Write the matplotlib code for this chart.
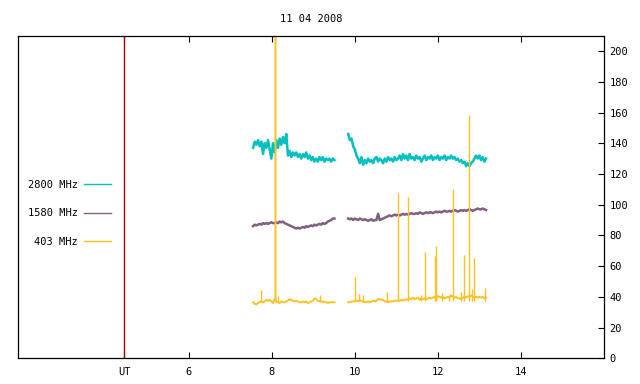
import numpy as np
import matplotlib
matplotlib.use("Agg")
import matplotlib.pyplot as plt

# ---------------- data ----------------
title = "11 04 2008"
labels = ["2800 MHz", "1580 MHz", "403 MHz"]
colors = ["#00c0c0", "#806080", "#ffc020"]
ut_pos = 4.45
xtick_vals = [6, 8, 10, 12, 14]
ytick_vals = [0, 20, 40, 60, 80, 100, 120, 140, 160, 180, 200]

seg1_start, seg2_start, step = 7.55, 9.84, 0.04

f2800_a = [137, 141, 139, 142, 138, 141, 133, 140, 137, 142,
           136, 130, 140, 134, 142, 137, 143, 139, 144, 140,
           146, 132, 135, 131, 134, 132, 134, 131, 133, 130,
           133, 131, 134, 130, 132, 129, 131, 128, 130, 128,
           131, 129, 131, 128, 130, 129, 130, 128, 130, 129]
f2800_b = [146, 142, 143, 138, 136, 132, 130, 127, 131, 126,
           129, 127, 130, 128, 129, 127, 130, 131, 128, 130,
           129, 127, 130, 128, 131, 129, 130, 128, 131, 129,
           130, 132, 129, 133, 130, 132, 129, 133, 130, 131,
           129, 132, 130, 131, 128, 130, 132, 129, 131, 130,
           132, 129, 131, 130, 132, 129, 131, 130, 132, 129,
           131, 130, 132, 130, 131, 129, 130, 128, 129, 127,
           128, 125, 127, 125, 127, 128, 130, 132, 130, 132,
           129, 131, 128, 130]

f1580_a = [86, 87, 86.5, 87, 87.5, 87, 88, 87.5, 88, 87.5,
           88, 88.5, 88, 88, 88.5, 88, 89, 88.5, 89, 88,
           87.5, 87, 86.5, 86, 85.5, 85, 84.5, 85, 84.5, 85,
           85.5, 85, 86, 85.5, 86, 86.5, 86, 87, 86.5, 87,
           87.5, 87, 88, 87.5, 88, 89, 89.5, 90, 91, 91]
f1580_b = [91, 90.5, 91, 90, 91, 90.5, 90, 91, 90.5, 90,
           90.5, 90, 89.5, 90, 90.5, 89.5, 90, 90, 94, 90,
           90.5, 91, 91.5, 92, 92.5, 93, 92.5, 93, 93.5, 93,
           93.5, 93, 93.5, 94, 93.5, 94, 93.5, 94, 94.5, 94,
           94, 94.5, 94, 95, 94.5, 94, 94.5, 95, 94.5, 95,
           95, 94.5, 95, 95.5, 95, 95.5, 95, 95.5, 96, 95.5,
           95.5, 96, 95.5, 96, 96.5, 96, 95.5, 96, 96.5, 96,
           96.5, 96, 96.5, 97, 96.5, 96, 96.5, 97, 97.5, 97,
           97, 97.5, 97, 96.5]

f403_a = [36.5, 35.5, 35, 36, 36.5, 37, 36.5, 37, 38, 37.5,
          38, 37, 36, 38.5, 37, 36.5, 36, 37, 36.5, 36.5,
          37, 37.5, 38.5, 38, 37.5, 37, 37.5, 37, 36.5, 36.5,
          37, 36.5, 37, 36, 36.5, 37, 37.5, 39, 38.5, 37.5,
          37, 37, 36.5, 37, 36.5, 36, 36.5, 36.5, 36.5, 36.5]
f403_b = [36.5, 36.5, 37, 37, 37, 37.5, 37, 38, 37, 37,
          36.5, 36.5, 37, 36.5, 37, 37.5, 37, 37.5, 38.5, 38.5,
          38, 38, 37, 37, 36.5, 37, 37, 37, 37.5, 37.5,
          37.5, 37.5, 38, 37.5, 38, 38.5, 38, 39, 38.5, 39.5,
          38.5, 39, 39.5, 38, 39, 38.5, 39, 38.5, 39, 39.5,
          39, 39.5, 40, 39, 40.5, 40, 39.5, 40, 39, 39.5,
          40, 39.5, 41, 40, 39.5, 40, 39, 39, 38.5, 39.5,
          40, 39.5, 40.5, 40, 41, 40, 39.5, 40, 39.5, 40,
          39.5, 40, 39, 39.5]

# 403 MHz short bursts (time, peak flux)
spike_t = [7.74, 8.07, 8.08, 8.09, 8.15, 9.16, 10.00, 10.10, 10.20, 10.78,
           11.04, 11.28, 11.60, 11.69, 11.94, 11.96, 12.10, 12.27, 12.36,
           12.55, 12.63, 12.75, 12.83, 12.87, 13.14]
spike_v = [44.5, 260, 260, 260, 40.5, 41, 53, 42, 41.5, 43,
           107.5, 105, 41, 69, 66.5, 72.8, 42.5, 41.5, 110,
           43, 67.5, 158.5, 45, 65, 45.5]
spike_base = 37

# ---------------- plot ----------------
plt.rcParams['font.family'] = ['DejaVu Sans Mono']
fig = plt.figure(figsize=(6.4, 3.84), dpi=100)
ax = fig.add_axes([18 / 640, 1 - 358.3 / 384, (604 - 18) / 640, (358.3 - 35.7) / 384])

t1 = seg1_start + step * np.arange(len(f2800_a))
t2 = seg2_start + step * np.arange(len(f2800_b))

series = [(f2800_a, f2800_b), (f1580_a, f1580_b), (f403_a, f403_b)]
widths = [1.8, 1.8, 1.4]
for (a, b), lab, c, w in zip(series, labels, colors, widths):
    ax.plot(t1, a, color=c, lw=w, label=lab)
    ax.plot(t2, b, color=c, lw=w)

ax.vlines(spike_t, spike_base, spike_v, color=colors[2], lw=1.0)

ax.axvline(ut_pos, color="#a00000", lw=1.0)

ax.set_xlim(1.89, 16.0)
ax.set_ylim(0, 210)

ax.set_xticks([ut_pos] + xtick_vals)
ax.set_xticklabels(["UT"] + [str(v) for v in xtick_vals])
ax.set_yticks(ytick_vals)
ax.yaxis.tick_right()
ax.tick_params(axis='x', direction='in', length=4, width=0.8, top=True,
               labelsize=7.5, pad=6)
ax.tick_params(axis='y', direction='in', length=4, width=0.8, left=False,
               right=True, labelsize=7.5, pad=4)
for s in ax.spines.values():
    s.set_linewidth(0.9)

ax.set_title(title, fontsize=7.5, pad=10)

leg = ax.legend(loc='upper right', bbox_to_anchor=(0.159, 0.553), frameon=False,
                markerfirst=False, fontsize=7.5, handlelength=2.6,
                handletextpad=0.6, labelspacing=1.78, borderpad=0,
                borderaxespad=0)
for h in leg.get_lines():
    h.set_linewidth(1.0)

fig.savefig("out.png", dpi=100)
